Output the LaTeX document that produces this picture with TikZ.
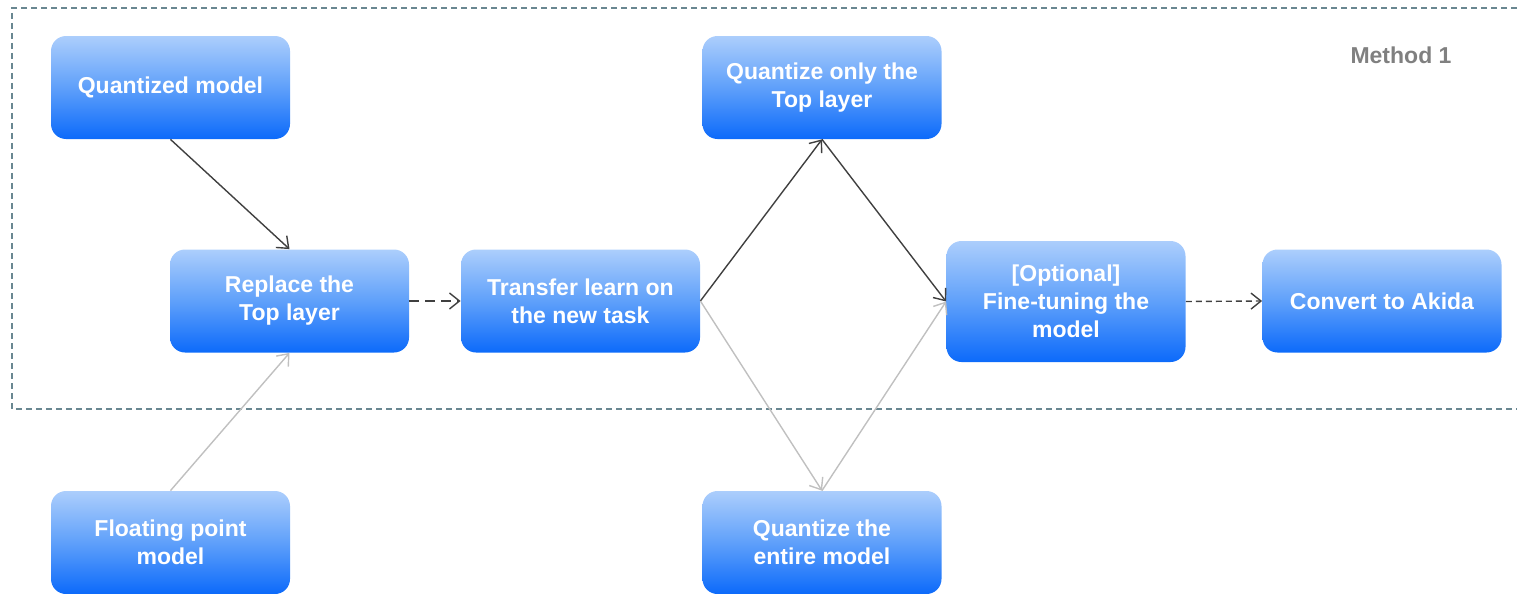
\documentclass[tikz,border=0pt]{standalone}
\usepackage{fontspec}
\setmainfont{Liberation Sans}
\usepackage{xcolor}
\usepackage{tikz}
\usetikzlibrary{positioning, arrows.meta, calc}

\definecolor{boxtop}{RGB}{172,206,252}
\definecolor{boxmid}{RGB}{95,160,250}
\definecolor{boxbot}{RGB}{12,106,250}
\definecolor{darkline}{RGB}{64,64,64}
\definecolor{lightline}{RGB}{192,192,192}
\definecolor{framecol}{RGB}{105,135,145}

\begin{document}
\begin{tikzpicture}[x=0.5pt, y=-0.5pt,
    stepbox/.style={rectangle, rounded corners=7.5pt, minimum width=119.5pt, minimum height=51.5pt,
      top color=boxtop, bottom color=boxbot, middle color=boxmid, draw=none,
      text=white, font=\bfseries\fontsize{11.5}{14}\selectfont, align=center},
    darkarrow/.style={-{Straight Barb[length=5pt, width=8pt]}, darkline, line width=0.7pt},
    lightarrow/.style={-{Straight Barb[length=5pt, width=8pt]}, lightline, line width=0.7pt}]
      \useasboundingbox (0,0) rectangle (1517,594);

      % Method frame
      \draw[framecol, line width=0.6pt, dash pattern=on 3pt off 2pt] (1517,8) -| (12,409) -- (1517,409);
      \node[text=gray, font=\bfseries\fontsize{11.5}{14}\selectfont] (method) at (1401,55) {Method 1};

      % Nodes
      \node[stepbox] (qmodel) at (170.5,87.5) {Quantized model};
      \node[stepbox] (replace) at (289.5,301) {Replace the\\Top layer};
      \node[stepbox] (transfer) at (580.5,301) {Transfer learn on\\the new task};
      \node[stepbox] (qtop) at (822,87.5) {Quantize only the\\Top layer};
      \node[stepbox, minimum height=60.5pt] (finetune) at (1066,301.5) {[Optional]\\Fine-tuning the\\model};
      \node[stepbox] (akida) at (1382,301) {Convert to Akida};
      \node[stepbox] (fmodel) at (170.5,542.5) {Floating point\\model};
      \node[stepbox] (qall) at (822,542.5) {Quantize the\\entire model};

      % Edges
      \draw[darkarrow] (qmodel.south) -- (replace.north);
      \draw[lightarrow] (fmodel.north) -- (replace.south);
      \draw[darkarrow, dash pattern=on 5pt off 3pt] (replace.east) -- (transfer.west);
      \draw[darkarrow] (transfer.east) -- (qtop.south);
      \draw[lightarrow] (transfer.east) -- (qall.north);
      \draw[darkarrow] (qtop.south) -- (finetune.west);
      \draw[lightarrow] (qall.north) -- (finetune.west);
      \draw[darkarrow, dash pattern=on 3pt off 2pt] (finetune.east) -- (akida.west);
    \end{tikzpicture}
\end{document}
